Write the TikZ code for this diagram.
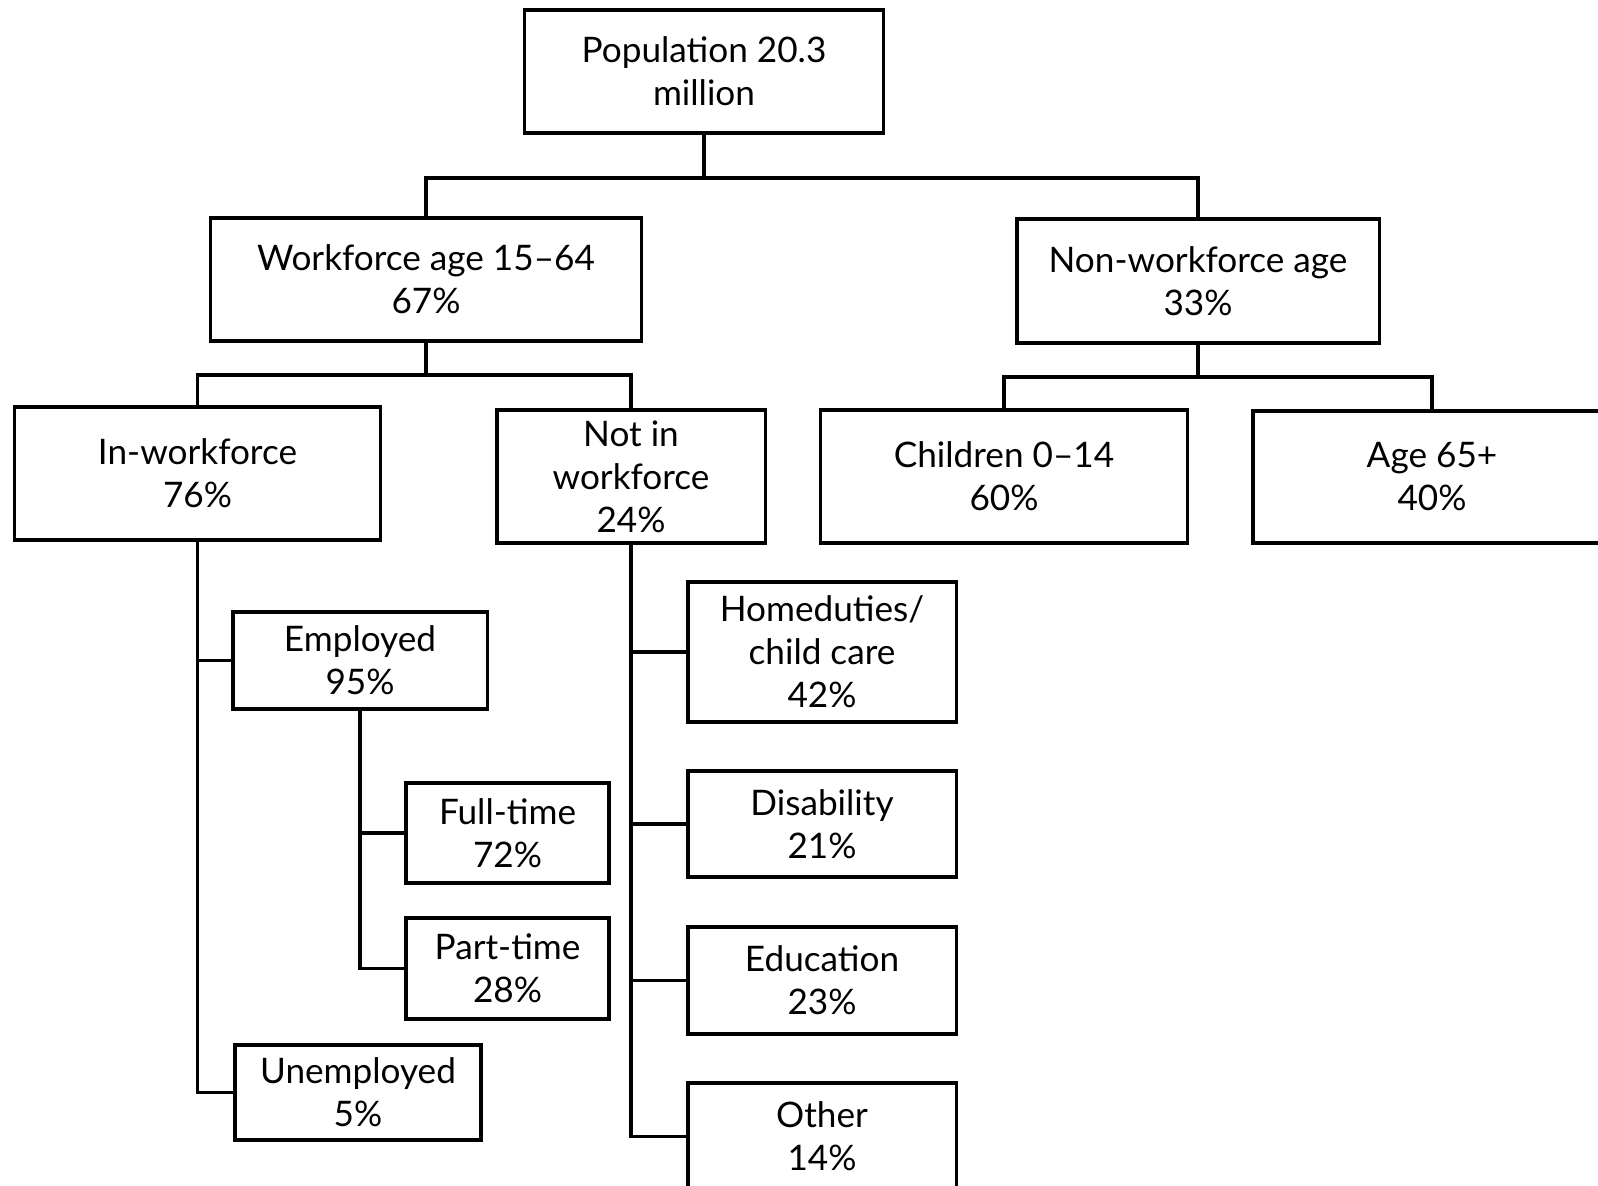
\documentclass[tikz,border=0pt]{standalone}
\usepackage{fontspec}
\setmainfont{Lato}
\begin{document}
\begin{tikzpicture}[x=0.01cm,y=-0.01cm,
  box/.style={draw, line width=0.9pt, align=center, inner sep=0pt,
    font=\fontsize{10}{12.2}\selectfont},
  link/.style={draw, line width=0.9pt, -}]
\useasboundingbox (0,0) rectangle (1598,1186);
\begin{scope}
\clip (0,0) rectangle (1598,1186);
% top levels
\node[box, minimum width=3.58cm, minimum height=1.23cm] (pop) at (704,71.5) {Population 20.3\\million};
\node[box, minimum width=4.30cm, minimum height=1.23cm] (work) at (426,279.5) {Workforce age 15--64\\67\%};
\node[box, minimum width=3.62cm, minimum height=1.24cm] (nonwork) at (1198,281) {Non-workforce age\\33\%};
\node[box, minimum width=3.65cm, minimum height=1.33cm] (inwork) at (197.5,473.5) {In-workforce\\76\%};
\node[box, minimum width=2.68cm, minimum height=1.33cm] (notin) at (631,476.5) {Not in\\workforce\\24\%};
\node[box, minimum width=3.66cm, minimum height=1.33cm] (child) at (1004,476.5) {Children 0--14\\60\%};
\node[box, minimum width=3.58cm, minimum height=1.32cm] (old) at (1432,477) {Age 65+\\40\%};
% in workforce
\node[box, minimum width=2.54cm, minimum height=0.97cm] (empl) at (360,660.5) {Employed\\95\%};
\node[box, minimum width=2.03cm, minimum height=1.00cm] (full) at (507.5,833) {Full-time\\72\%};
\node[box, minimum width=2.03cm, minimum height=1.01cm] (part) at (507.5,968.5) {Part-time\\28\%};
\node[box, minimum width=2.46cm, minimum height=0.95cm] (unempl) at (358,1092.5) {Unemployed\\5\%};
% not in workforce
\node[box, minimum width=2.68cm, minimum height=1.40cm] (home) at (822,652) {Homeduties/\\child care\\42\%};
\node[box, minimum width=2.68cm, minimum height=1.06cm] (disab) at (822,824) {Disability\\21\%};
\node[box, minimum width=2.68cm, minimum height=1.07cm] (edu) at (822,980.5) {Education\\23\%};
\node[box, minimum width=2.68cm, minimum height=1.07cm] (other) at (822,1136.5) {Other\\14\%};
% branches
\coordinate (b1) at (0,178);
\coordinate (b2) at (0,375);
\coordinate (b3) at (0,377);
\path[link] (pop.south) -- (pop.south |- b1);
\path[link] (work.north) |- (b1 -| nonwork.north) -- (nonwork.north);
\path[link] (work.south) -- (work.south |- b2);
\path[link] (inwork.north) |- (b2 -| notin.north) -- (notin.north);
\path[link] (nonwork.south) -- (nonwork.south |- b3);
\path[link] (child.north) |- (b3 -| old.north) -- (old.north);
\path[link] (inwork.south) |- (unempl.west);
\path[link] (inwork.south |- empl.west) -- (empl.west);
\path[link] (empl.south) |- (part.west);
\path[link] (empl.south |- full.west) -- (full.west);
\path[link] (notin.south) |- (other.west);
\path[link] (notin.south |- home.west) -- (home.west);
\path[link] (notin.south |- disab.west) -- (disab.west);
\path[link] (notin.south |- edu.west) -- (edu.west);
\end{scope}
\end{tikzpicture}
\end{document}
